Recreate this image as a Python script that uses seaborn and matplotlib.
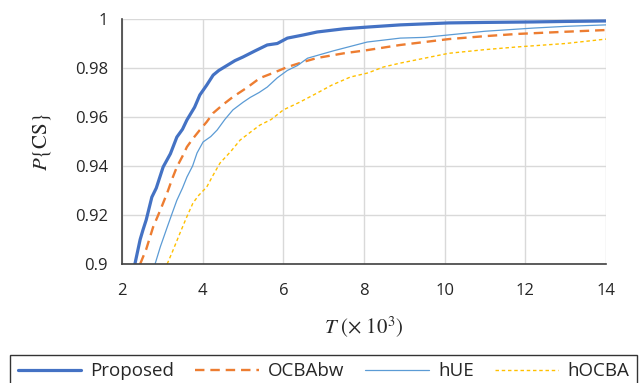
import pandas as pd
import seaborn as sns
import numpy as np
import matplotlib.pyplot as plt

# values (T in thousands, P{CS})
proposed_T = [2.32, 2.45, 2.52, 2.6, 2.74, 2.85, 3.02, 3.2, 3.36, 3.5, 3.61, 3.8, 3.93, 4.1, 4.26, 4.4,
              4.6, 4.8, 5.0, 5.3, 5.6, 5.85, 6.1, 6.5, 6.84, 7.5, 8.08, 8.9, 10.1, 11, 12.2, 13, 14]
proposed_P = [0.900, 0.910, 0.9139, 0.918, 0.9273, 0.931, 0.9396, 0.945, 0.9518, 0.955, 0.9588, 0.964,
              0.969, 0.973, 0.9771, 0.979, 0.981, 0.983, 0.9845, 0.987, 0.9894, 0.990, 0.9922, 0.9935,
              0.9947, 0.996, 0.9967, 0.9976, 0.9984, 0.9986, 0.9988, 0.999, 0.9992]

ocbabw_T = [2.45, 2.6, 2.77, 2.95, 3.12, 3.25, 3.36, 3.5, 3.61, 3.75, 3.93, 4.1, 4.26, 4.5, 4.75, 5.1,
            5.42, 5.75, 6.1, 6.5, 6.84, 7.5, 8.08, 8.9, 10.1, 11, 11.8, 13, 14]
ocbabw_P = [0.900, 0.906, 0.915, 0.922, 0.929, 0.935, 0.9396, 0.944, 0.9478, 0.951, 0.9547, 0.958,
            0.9616, 0.965, 0.9682, 0.972, 0.9759, 0.978, 0.9804, 0.9825, 0.9841, 0.986, 0.9873, 0.9894,
            0.9918, 0.993, 0.9939, 0.9948, 0.9955]

hue_T = [2.82, 2.95, 3.12, 3.25, 3.36, 3.5, 3.61, 3.75, 3.86, 4.01, 4.2, 4.36, 4.55, 4.75, 5.0, 5.18,
         5.4, 5.6, 5.85, 6.1, 6.35, 6.6, 7.24, 8.08, 8.9, 9.5, 10.1, 11, 12.2, 13, 14]
hue_P = [0.900, 0.907, 0.915, 0.921, 0.926, 0.931, 0.9355, 0.940, 0.9453, 0.9498, 0.952, 0.9547, 0.959,
         0.9629, 0.966, 0.968, 0.970, 0.9722, 0.976, 0.979, 0.981, 0.984, 0.987, 0.9906, 0.9922, 0.9925,
         0.9935, 0.995, 0.9963, 0.997, 0.9976]

hocba_T = [3.12, 3.25, 3.44, 3.6, 3.76, 3.9, 4.1, 4.25, 4.43, 4.7, 4.93, 5.2, 5.42, 5.7, 6.0, 6.4,
           6.84, 7.2, 7.66, 8.1, 8.48, 8.9, 9.5, 10.1, 11, 11.8, 13, 14]
hocba_P = [0.900, 0.905, 0.9127, 0.919, 0.9249, 0.928, 0.9314, 0.936, 0.9412, 0.946, 0.9506, 0.954,
           0.9567, 0.959, 0.9629, 0.966, 0.9698, 0.973, 0.9763, 0.978, 0.9804, 0.982, 0.984, 0.986,
           0.9875, 0.9886, 0.990, 0.9918]

methods = ["Proposed", "OCBAbw", "hUE", "hOCBA"]
xticks = [2, 4, 6, 8, 10, 12, 14]
yticks = [0.9, 0.92, 0.94, 0.96, 0.98, 1.0]
yticklabels = ["0.9", "0.92", "0.94", "0.96", "0.98", "1"]

df = pd.concat([
    pd.DataFrame({"T": proposed_T, "P": proposed_P, "method": "Proposed"}),
    pd.DataFrame({"T": ocbabw_T, "P": ocbabw_P, "method": "OCBAbw"}),
    pd.DataFrame({"T": hue_T, "P": hue_P, "method": "hUE"}),
    pd.DataFrame({"T": hocba_T, "P": hocba_P, "method": "hOCBA"}),
])

colors = {"Proposed": "#4472C4", "OCBAbw": "#ED7D31", "hUE": "#5B9BD5", "hOCBA": "#FFC000"}
widths = {"Proposed": 2.3, "OCBAbw": 1.7, "hUE": 0.9, "hOCBA": 1.0}
dashes = {"Proposed": "", "OCBAbw": (4, 2.5), "hUE": "", "hOCBA": (2.5, 2)}

sns.set_style("white")
plt.rcParams['font.family'] = ['Open Sans', 'DejaVu Sans']
plt.rcParams['mathtext.fontset'] = 'stix'

fig, ax = plt.subplots(figsize=(6.44, 3.83), dpi=100)
fig.subplots_adjust(left=122/644, right=606/644, top=1-19/383, bottom=1-264/383)

for m in methods:
    sub = df[df["method"] == m]
    sns.lineplot(data=sub, x="T", y="P", ax=ax, color=colors[m], linewidth=widths[m],
                 label=m, errorbar=None, sort=False, dashes=False)
    if dashes[m]:
        ax.lines[-1].set_dashes(dashes[m])

ax.set_xlim(2, 14)
ax.set_ylim(0.9, 1.0)
ax.set_xticks(xticks)
ax.set_xticklabels([str(t) for t in xticks], fontsize=12)
ax.set_yticks(yticks)
ax.set_yticklabels(yticklabels, fontsize=12)
ax.tick_params(axis="x", length=0, pad=14)
ax.tick_params(axis="y", length=0, pad=10)
ax.grid(True, color="#D9D9D9", linewidth=1)
ax.set_axisbelow(True)
for s in ["top", "right"]:
    ax.spines[s].set_visible(False)
for s in ["left", "bottom"]:
    ax.spines[s].set_color("#404040")
    ax.spines[s].set_linewidth(1.2)

ax.set_xlabel(r"$T\ (\times\ 10^3)$", fontsize=15, labelpad=11)
ax.set_ylabel(r"$P\{\mathrm{CS}\}$", fontsize=15, labelpad=16)

ax.get_legend().remove()
handles, labels = ax.get_legend_handles_labels()
fig.legend(handles, labels, loc="lower left", ncol=4, mode="expand",
           bbox_to_anchor=(10/644, -0.012, 627/644, 32/383), fontsize=13.5,
           frameon=True, fancybox=False, edgecolor="black", handlelength=3.4,
           handletextpad=0.5, borderaxespad=0, borderpad=0.4, columnspacing=0.8)
fig.legends[0].get_frame().set_linewidth(1.0)

plt.savefig("out.png", dpi=100)
